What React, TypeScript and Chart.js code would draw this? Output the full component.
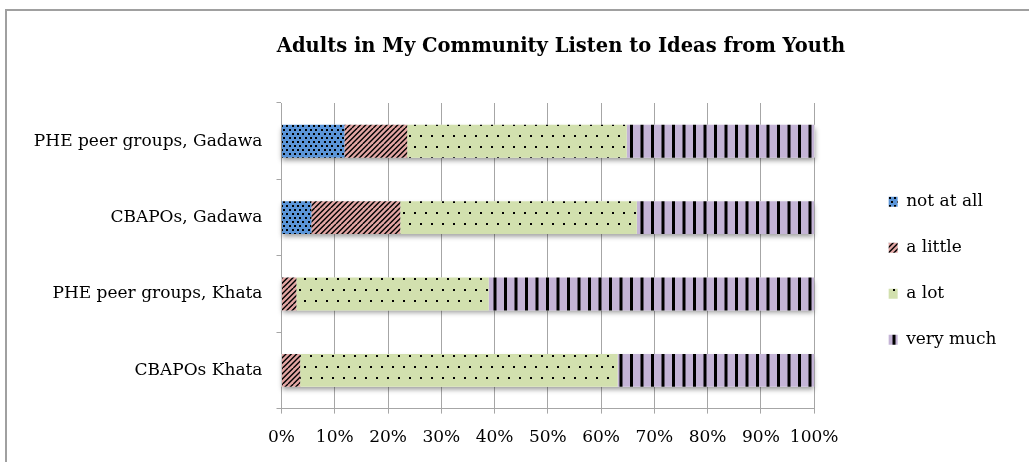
import React, { useEffect, useRef } from 'react';
import { Chart, registerables } from 'chart.js';

Chart.register(...registerables);

const chartTitle = 'Adults in My Community Listen to Ideas from Youth';
const categories = ['PHE peer groups, Gadawa', 'CBAPOs, Gadawa', 'PHE peer groups, Khata', 'CBAPOs Khata'];
const seriesNames = ['not at all', 'a little', 'a lot', 'very much'];
const notAtAll = [11.8, 5.6, 0, 0];
const aLittle = [11.8, 16.7, 2.8, 3.5];
const aLot = [41.2, 44.4, 36.1, 59.6];
const veryMuch = [35.3, 33.3, 61.1, 36.9];
const xTickValues = [0, 10, 20, 30, 40, 50, 60, 70, 80, 90, 100];

const FONT = 'DejaVu Serif';
const GRID = '#a6a6a6';
const TITLE_X = 561;
const TITLE_Y = 47;

function makePattern(w: number, h: number, bg: string, draw: (g: CanvasRenderingContext2D) => void) {
  const c = document.createElement('canvas');
  c.width = w;
  c.height = h;
  const g = c.getContext('2d') as CanvasRenderingContext2D;
  g.fillStyle = bg;
  g.fillRect(0, 0, w, h);
  g.fillStyle = '#000';
  g.strokeStyle = '#000';
  draw(g);
  return g.createPattern(c, 'repeat') as CanvasPattern;
}

function buildPatterns() {
  const blue = makePattern(16, 8, '#5b95d8', (g) => {
    [1, 6, 11].forEach((x) => g.fillRect(x, 1, 2, 2));
    [4, 9, 14].forEach((x) => g.fillRect(x, 5, 2, 2));
  });
  const pink = makePattern(16, 16, '#e2a5a3', (g) => {
    g.lineWidth = 1.4;
    g.beginPath();
    for (let c = -32; c <= 32; c += 16 / 3) {
      g.moveTo(c, 16);
      g.lineTo(c + 16, 0);
    }
    g.stroke();
  });
  const green = makePattern(11, 22, '#d2e0ae', (g) => {
    g.fillRect(2, 3, 2, 2);
    g.fillRect(7, 14, 2, 2);
  });
  const purple = makePattern(21, 4, '#c4b4d6', (g) => {
    g.fillRect(0, 0, 3, 4);
    g.fillRect(10.5, 0, 3, 4);
  });
  return [blue, pink, green, purple];
}

const barShadow = {
  id: 'barShadow',
  beforeDatasetsDraw(chart: any) {
    const ctx = chart.ctx as CanvasRenderingContext2D;
    const metas = chart.data.datasets.map((_: any, i: number) => chart.getDatasetMeta(i));
    ctx.save();
    ctx.shadowColor = 'rgba(0,0,0,0.4)';
    ctx.shadowBlur = 5;
    ctx.shadowOffsetY = 3;
    ctx.fillStyle = '#ffffff';
    categories.forEach((_, j) => {
      let left = Infinity;
      let right = -Infinity;
      let y = 0;
      let h = 0;
      metas.forEach((m: any) => {
        const el = m.data[j];
        if (!el) return;
        left = Math.min(left, el.base, el.x);
        right = Math.max(right, el.base, el.x);
        y = el.y;
        h = el.height;
      });
      if (isFinite(left)) ctx.fillRect(left, y - h / 2, right - left, h);
    });
    ctx.restore();
  },
};

const centeredTitle = {
  id: 'centeredTitle',
  afterDraw(chart: any) {
    const ctx = chart.ctx as CanvasRenderingContext2D;
    ctx.save();
    ctx.font = `bold 19.5px "${FONT}"`;
    ctx.fillStyle = '#000';
    ctx.textAlign = 'center';
    ctx.textBaseline = 'middle';
    ctx.fillText(chartTitle, TITLE_X, TITLE_Y);
    ctx.restore();
  },
};

export default function App() {
  const ref = useRef<HTMLCanvasElement>(null);

  useEffect(() => {
    if (!ref.current) return;
    Chart.defaults.font.family = FONT;
    const patterns = buildPatterns();
    const seriesData = [notAtAll, aLittle, aLot, veryMuch];
    const chart = new Chart(ref.current, {
      type: 'bar',
      data: {
        labels: categories,
        datasets: seriesNames.map((name, i) => ({
          label: name,
          data: seriesData[i],
          backgroundColor: patterns[i],
          borderWidth: 0,
          barPercentage: 0.43,
          categoryPercentage: 1,
        })),
      },
      options: {
        indexAxis: 'y',
        responsive: false,
        animation: false,
        devicePixelRatio: 1,
        layout: { padding: { left: 8, right: 22.5, top: 103, bottom: 0 } },
        plugins: {
          tooltip: { enabled: false },
          title: { display: false },
          legend: {
            position: 'right',
            fullSize: false,
            align: 'center',
            title: { display: true, text: ' ', padding: { top: 4.8, bottom: 4.8 }, font: { family: FONT, size: 17 } },
            labels: {
              color: '#000',
              font: { family: FONT, size: 17 },
              boxWidth: 9,
              boxHeight: 10,
              padding: 29,
            },
          },
        },
        scales: {
          x: {
            type: 'linear',
            stacked: true,
            min: 0,
            max: 100,
            afterBuildTicks: (scale: any) => {
              scale.ticks = xTickValues.map((v) => ({ value: v }));
            },
            ticks: {
              color: '#000',
              font: { family: FONT, size: 17 },
              padding: 14,
              maxRotation: 0,
              autoSkip: false,
              callback: (v: any) => v + '%',
            },
            grid: { color: GRID, tickLength: 5, drawTicks: true },
            border: { color: GRID },
          },
          y: {
            type: 'category',
            stacked: true,
            ticks: { color: '#000', font: { family: FONT, size: 17 }, padding: 14 },
            grid: { display: true, drawOnChartArea: false, tickLength: 5, color: GRID, offset: true },
            border: { color: GRID },
            afterFit: (scale: any) => {
              scale.width = 273.5;
            },
          },
          y2: {
            type: 'category',
            position: 'right',
            display: true,
            ticks: { display: false },
            grid: { display: false },
            border: { display: false },
            afterFit: (scale: any) => {
              scale.width = 45.5;
            },
          },
        },
      },
      plugins: [barShadow, centeredTitle],
    } as any);
    return () => chart.destroy();
  }, []);

  return (
    <div style={{ position: 'fixed', left: 0, top: 0, width: 1029, height: 462, background: '#fff', overflow: 'hidden' }}>
      <div style={{ position: 'absolute', left: 5, top: 9, width: 2, height: 460, background: '#a0a0a0' }} />
      <div style={{ position: 'absolute', left: 5, top: 9, width: 1030, height: 2, background: '#a0a0a0' }} />
      <canvas ref={ref} width={1029} height={462} style={{ position: 'absolute', left: 0, top: 0 }} />
    </div>
  );
}
